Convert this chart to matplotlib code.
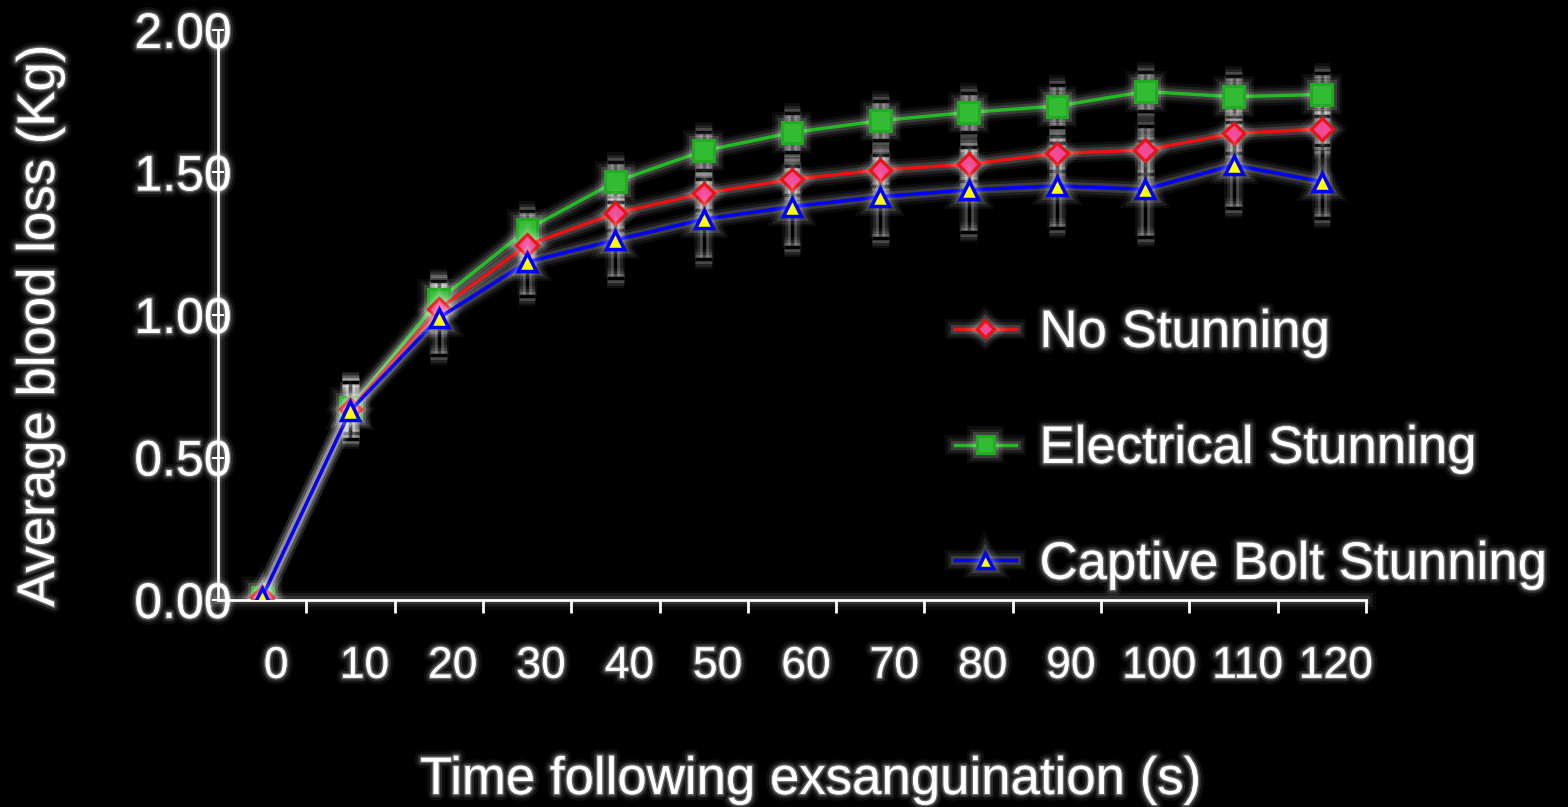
import matplotlib
matplotlib.use("Agg")
import matplotlib.pyplot as plt
import matplotlib.patheffects as pe
from matplotlib.transforms import ScaledTranslation
import numpy as np

plt.rcParams['font.family'] = ['Liberation Sans', 'DejaVu Sans']

# ---- data ----
time_labels = ['0', '10', '20', '30', '40', '50', '60', '70', '80', '90', '100', '110', '120']
no_stunning = [0.01, 0.67, 1.02, 1.245, 1.357, 1.427, 1.476, 1.509, 1.529, 1.567, 1.579, 1.637, 1.653]
electrical = [0.01, 0.675, 1.053, 1.30, 1.468, 1.576, 1.64, 1.682, 1.711, 1.733, 1.784, 1.766, 1.774]
captive = [0.01, 0.665, 0.99, 1.186, 1.263, 1.336, 1.38, 1.415, 1.439, 1.453, 1.441, 1.526, 1.468]
no_stunning_err = [0.0, 0.09, 0.07, 0.06, 0.058, 0.058, 0.056, 0.058, 0.06, 0.06, 0.084, 0.07, 0.07]
electrical_err = [0.0, 0.09, 0.075, 0.065, 0.07, 0.067, 0.068, 0.068, 0.069, 0.074, 0.069, 0.073, 0.076]
captive_err = [0.0, 0.1, 0.13, 0.12, 0.133, 0.14, 0.143, 0.146, 0.149, 0.149, 0.168, 0.152, 0.127]
y_ticks = [0.0, 0.5, 1.0, 1.5, 2.0]
series_names = ['No Stunning', 'Electrical Stunning', 'Captive Bolt Stunning']

W, H = 1568, 807
fig = plt.figure(figsize=(W / 100, H / 100), dpi=100, facecolor='black')
ax = fig.add_axes([218 / W, (H - 600) / H, (1366 - 218) / W, (600 - 30) / H])
ax.set_facecolor('black')

def glow(base=0.0, strength=1.0):
    return [pe.Stroke(linewidth=base + 12, foreground='white', alpha=0.05 * strength),
            pe.Stroke(linewidth=base + 8, foreground='white', alpha=0.08 * strength),
            pe.Stroke(linewidth=base + 4, foreground='white', alpha=0.14 * strength),
            pe.Normal()]

text_glow = [pe.Stroke(linewidth=9, foreground='white', alpha=0.06),
             pe.Stroke(linewidth=5, foreground='white', alpha=0.12),
             pe.Stroke(linewidth=2, foreground='white', alpha=0.3),
             pe.Normal()]

x = np.arange(len(time_labels))

# error bars (black with glow)
for vals, errs in [(no_stunning, no_stunning_err), (electrical, electrical_err), (captive, captive_err)]:
    eb = ax.errorbar(x, vals, yerr=errs, fmt='none', ecolor='black', elinewidth=2.5,
                     capsize=6, capthick=2.5, zorder=2)
    for art in list(eb[1]) + list(eb[2]):
        art.set_path_effects(glow(2.5, 1.2))

styles = [
    dict(color='#ee1111', marker='D', markersize=11, markerfacecolor='#ee4b98',
         markeredgecolor='#ee1111', markeredgewidth=2.2, linewidth=2.5),
    dict(color='#22bb22', marker='s', markersize=15, markerfacecolor='#33bb33',
         markeredgecolor='#22aa22', markeredgewidth=2.2, linewidth=2.5),
    dict(color='#0000ff', marker='^', markersize=13, markerfacecolor='#ffff00',
         markeredgecolor='#0000ff', markeredgewidth=2.5, linewidth=2.5),
]
for vals, name, st, z in zip([no_stunning, electrical, captive], series_names, styles, [4, 3, 5]):
    ln, = ax.plot(x, vals, label=name, zorder=z, **st)
    ln.set_path_effects(glow(2.5, 1.0))

ax.set_xlim(-0.5, len(time_labels) - 0.5)
ax.set_ylim(0, 2.0)

for s in ['top', 'right']:
    ax.spines[s].set_visible(False)
for s in ['left', 'bottom']:
    ax.spines[s].set_color('white')
    ax.spines[s].set_linewidth(2)
    ax.spines[s].set_path_effects(glow(2, 0.8))

# y ticks
ax.set_yticks(y_ticks)
ax.set_yticklabels([f'{v:.2f}' for v in y_ticks])
ax.tick_params(axis='y', direction='inout', length=9, width=1.5, colors='white',
               labelsize=36, pad=-14.5)
for t in ax.get_yticklabels():
    t.set_path_effects(text_glow)

# x ticks: marks at category boundaries, labels at category centers
ax.set_xticks(np.arange(0.5, len(time_labels), 1.0))
ax.set_xticklabels([])
ax.tick_params(axis='x', which='major', direction='out', length=9, width=2, colors='white')
ax.set_xticks(x, minor=True)
ax.set_xticklabels(time_labels, minor=True)
ax.tick_params(axis='x', which='minor', length=0, labelsize=32, colors='white', pad=33)
off = ScaledTranslation(14 / 100, 0, fig.dpi_scale_trans)
for t in ax.get_xticklabels(minor=True):
    t.set_transform(t.get_transform() + off)
    t.set_path_effects(text_glow)

# axis titles
fig.text(40 / W, 1 - 326 / H, 'Average blood loss (Kg)', rotation=90, color='white',
         fontsize=38, ha='center', va='center', path_effects=text_glow)
fig.text(810 / W, 1 - 780 / H, 'Time following exsanguination (s)', color='white',
         fontsize=38, ha='center', va='center', path_effects=text_glow)

leg = ax.legend(loc='upper left', bbox_to_anchor=(955 / W, 1 - 308 / H),
                bbox_transform=fig.transFigure, frameon=False, fontsize=38,
                handlelength=1.15, handletextpad=0.45, labelspacing=1.25,
                markerscale=0.8, borderaxespad=0, borderpad=0)
for t in leg.get_texts():
    t.set_color('white')
    t.set_path_effects(text_glow)
for h in leg.legend_handles:
    h.set_path_effects(glow(2.5, 1.0))

fig.savefig('out.png', dpi=100, facecolor='black')
